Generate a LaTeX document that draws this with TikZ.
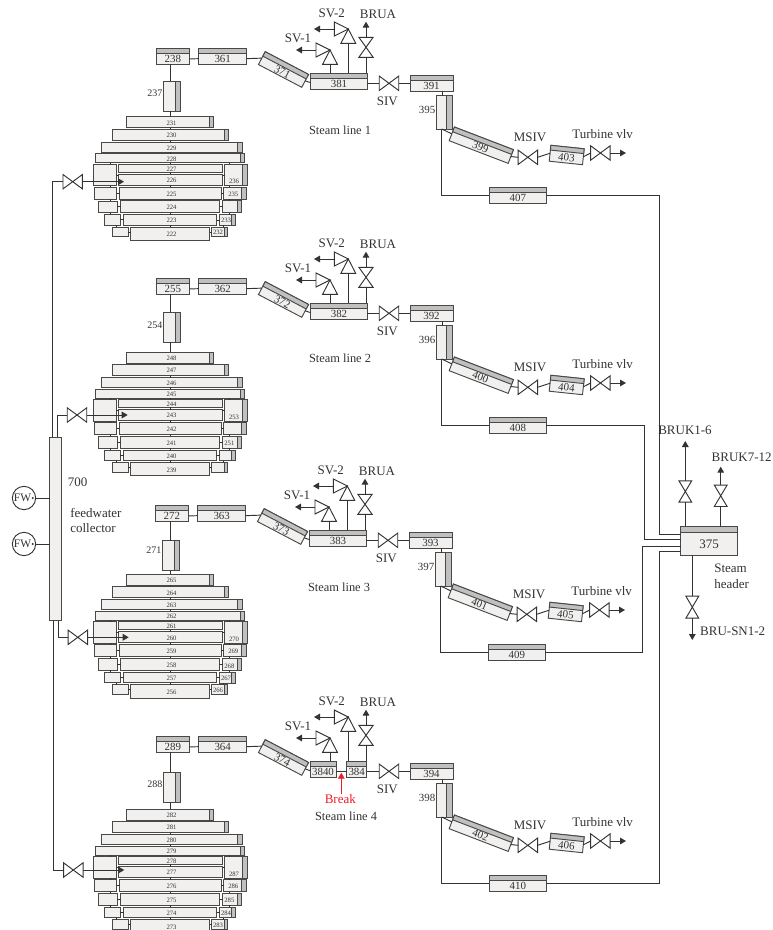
\documentclass[tikz,border=0pt]{standalone}
\usepackage{fontspec}
\setmainfont{Liberation Serif}
\usetikzlibrary{calc,arrows.meta}
\definecolor{linec}{HTML}{333333}
\definecolor{edgec}{HTML}{484848}
\definecolor{boxc}{HTML}{F1F0EF}
\definecolor{bandc}{HTML}{C0C0C0}
\definecolor{brkc}{HTML}{ED1C24}
\newcommand\fS{\fontsize{5}{6}\selectfont}
\newcommand\fM{\fontsize{8.2}{9}\selectfont}
\newcommand\fT{\fontsize{7.5}{9}\selectfont}
\newcommand\fL{\fontsize{9.75}{11}\selectfont}
% centred label, shifted by #1 right and #2 down
\newcommand\lbl[3]{\smash{\makebox[0pt][c]{\hspace*{#1}\hspace*{#1}\raisebox{\dimexpr-0.33em-#2\relax}{#3}}}}
\tikzset{
  unit/.style={rectangle,draw=edgec,fill=boxc,line width=.7pt,inner sep=0pt,outer sep=0pt,text=linec},
  ghost/.style={rectangle,inner sep=0pt,outer sep=0pt},
  pipe/.style={draw=linec,line width=.7pt},
  arr/.style={pipe,-{Triangle[length=4.5pt,width=5pt]}},
  txt/.style={font=\fL,text=linec,inner sep=0pt,outer sep=0pt},
  small/.style={font=\fT,text=linec,inner sep=0pt,outer sep=0pt},
  vlv/.style={draw=linec,line width=.7pt,fill=white,line join=miter},
}
% #1 rot, #2 name, #3 x1, #4 y1, #5 x2, #6 y2, #7 content
\newcommand\mkbox[7]{%
  \pgfmathsetmacro\myCx{(#3+#5)/2}\pgfmathsetmacro\myCy{(#4+#6)/2}%
  \pgfmathsetmacro\myW{(#5-#3)*.75}\pgfmathsetmacro\myH{(#6-#4)*.75}%
  \node[unit,rotate=#1,minimum width=\myW pt,minimum height=\myH pt] (#2) at (\myCx,\myCy) {#7};}
\newcommand\topband[2]{\filldraw[fill=bandc,draw=edgec,line width=.7pt] (#1.north west) -- (#1.north east) -- ($(#1.north east)!#2!(#1.south east)$) -- ($(#1.north west)!#2!(#1.south west)$) -- cycle;}
\newcommand\rightband[2]{\filldraw[fill=bandc,draw=edgec,line width=.7pt] (#1.north east) -- (#1.south east) -- ($(#1.south east)!#2!(#1.south west)$) -- ($(#1.north east)!#2!(#1.north west)$) -- cycle;}
% horizontal valve (bases left and right), vertical valve (bases top and bottom)
\newcommand\hvalve[3]{\node[ghost,minimum width=14.6pt,minimum height=10.8pt] (#1) at (#2,#3) {};
  \draw[vlv] (#1.north west) -- (#1.south east) -- (#1.north east) -- (#1.south west) -- cycle;}
\newcommand\vvalve[5]{\node[ghost,minimum width=#4,minimum height=#5] (#1) at (#2,#3) {};
  \draw[vlv] (#1.north west) -- (#1.north east) -- (#1.south west) -- (#1.south east) -- cycle;}
% safety valve: #1 name, apex at (#2,#3)
\newcommand\safety[3]{%
  \coordinate (#1-ap) at (#2,#3);
  \coordinate (#1-in) at ($(#1-ap)+(0,14.3)$);
  \coordinate (#1-out) at ($(#1-ap)+(-14,0)$);
  \draw[vlv] (#1-ap) -- ($(#1-ap)+(-7.4,14.3)$) -- ($(#1-ap)+(7.4,14.3)$) -- cycle;
  \draw[vlv] (#1-ap) -- ($(#1-ap)+(-14,-7)$) -- ($(#1-ap)+(-14,7)$) -- cycle;}
% stack row
\newcommand\rowb[7]{%
  \pgfmathsetmacro\myDx{(171.5-(#2+#4)/2)*.75}%
  \mkbox{0}{#1}{#2}{#3}{#4}{#5}{\fS\lbl{\myDx pt}{.6pt}{#7}}%
  \ifdim #6pt>0pt \rightband{#1}{#6pt}\fi}
% side box
\newcommand\sideb[9]{%
  \mkbox{0}{#1}{#2}{#3}{#4}{#5}{\fS\lbl{#7}{#8}{#9}}%
  \ifdim #6pt>0pt \rightband{#1}{#6pt}\fi}
% steam generator stack
\newcommand\SG[9]{%
  \coordinate (#1-x) at (170.3,#3);
  \begin{scope}[shift={(#2,#3)}]
  \coordinate (#1-lx) at (110.7,0); \coordinate (#1-lz) at (116.5,0);
  \coordinate (#1-rx) at (229.3,0); \coordinate (#1-rz) at (223,0);
  \rowb{#1-r9}{126}{116.7}{213}{127.7}{2.8}{\the\numexpr#4+9\relax}
  \rowb{#1-r8}{112.5}{129}{228.5}{140.3}{3}{\the\numexpr#4+8\relax}
  \rowb{#1-r7}{101}{142.3}{242}{152}{3.75}{\the\numexpr#4+7\relax}
  \rowb{#1-r6}{95}{153.7}{244.5}{162.7}{3.4}{\the\numexpr#4+6\relax}
  \rowb{#1-r5}{118.5}{164.3}{222}{172}{0}{\the\numexpr#4+5\relax}
  \rowb{#1-r4}{118.5}{174.3}{222}{185}{0}{\the\numexpr#4+4\relax}
  \rowb{#1-r3}{119.5}{187.3}{221}{199.3}{0}{\the\numexpr#4+3\relax}
  \rowb{#1-r2}{120.5}{200.7}{219.5}{212.7}{0}{\the\numexpr#4+2\relax}
  \rowb{#1-r1}{123.5}{214.7}{216.5}{225}{0}{\the\numexpr#4+1\relax}
  \rowb{#1-r0}{130.5}{227.3}{209.5}{240.5}{0}{\the\numexpr#4+0\relax}
  \mkbox{0}{#1-l4}{93}{164.3}{116}{185.7}{}
  \mkbox{0}{#1-l3}{94}{187.3}{116.5}{199.3}{}
  \mkbox{0}{#1-l2}{98.5}{201}{117}{212.7}{}
  \mkbox{0}{#1-l1}{104.5}{214.7}{120}{225}{}
  \mkbox{0}{#1-l0}{112.7}{227.3}{128.3}{236.7}{}
  \sideb{#1-s4}{224.5}{164.3}{247.5}{185.7}{3.75}{-1.5pt}{5pt}{#5}
  \sideb{#1-s3}{223.5}{187.3}{246}{199.3}{3.4}{-1.1pt}{.4pt}{#6}
  \sideb{#1-s2}{222.5}{200.7}{241}{212.7}{2.6}{-1.8pt}{1.2pt}{#7}
  \sideb{#1-s1}{219.5}{214.7}{235.5}{225.5}{3}{-1.1pt}{.4pt}{#8}
  \sideb{#1-s0}{211.5}{227.3}{227.5}{236.7}{2.6}{-1.1pt}{.4pt}{#9}
  \foreach \mya/\myb in {9/8,8/7,7/6,6/5,5/4,4/3,3/2,2/1,1/0}
    \draw[pipe] (#1-r\mya.south -| #1-x) -- (#1-r\myb.north -| #1-x);
  \foreach \mya in {0,1,2,3,4}{
    \draw[pipe] (#1-l\mya.east) -- (#1-l\mya.east -| #1-r\mya.west);
    \draw[pipe] (#1-s\mya.west) -- (#1-s\mya.west -| #1-r\mya.east);}
  \draw[pipe] (#1-r6.south -| #1-lx) -- (#1-l4.north -| #1-lx);
  \draw[pipe] (#1-l4.south -| #1-lx) -- (#1-l3.north -| #1-lx);
  \draw[pipe] (#1-l3.south -| #1-lx) -- (#1-l2.north -| #1-lx);
  \draw[pipe] (#1-l2.south -| #1-lx) -- (#1-l1.north -| #1-lx);
  \draw[pipe] (#1-l1.south -| #1-lz) -- (#1-l0.north -| #1-lz);
  \draw[pipe] (#1-r6.south -| #1-rx) -- (#1-s4.north -| #1-rx);
  \draw[pipe] (#1-s4.south -| #1-rx) -- (#1-s3.north -| #1-rx);
  \draw[pipe] (#1-s3.south -| #1-rx) -- (#1-s2.north -| #1-rx);
  \draw[pipe] (#1-s2.south -| #1-rx) -- (#1-s1.north -| #1-rx);
  \draw[pipe] (#1-s1.south -| #1-rz) -- (#1-s0.north -| #1-rz);
  \end{scope}}
% steam line: #1 prefix, #2 dx, #3 dy, #4 index, #5 tube y offset, #6 tube label y
\newcommand\SL[6]{%
  \coordinate (#1-x) at (170.3,#3);
  \begin{scope}[shift={(#2,#3)}]
  \coordinate (#1-y) at (442.7,0);
  \mkbox{0}{#1-a}{156.3}{48.3}{189.3}{64.3}{\fM\lbl{0pt}{2.2pt}{\the\numexpr238+17*#4\relax}}\topband{#1-a}{4pt}
  \mkbox{0}{#1-c}{198.7}{48}{246.7}{64}{\fM\lbl{0pt}{2pt}{\the\numexpr361+#4\relax}}\topband{#1-c}{4pt}
  \node[unit,rotate=-27.7,minimum width=36.7pt,minimum height=10.9pt] (#1-b) at (283.5,69.5) {\fM\lbl{0pt}{2pt}{\the\numexpr371+#4\relax}};
  \topband{#1-b}{3.8pt}
  \ifnum#4=3
    \def\mL{#1-m0}\def\mR{#1-m}
    \mkbox{0}{#1-m0}{310}{73.3}{336}{89.3}{\fM\lbl{0pt}{2pt}{3840}}\topband{#1-m0}{3.8pt}
    \mkbox{0}{#1-m}{346.7}{73.3}{366.7}{89.3}{\fM\lbl{0pt}{2pt}{384}}\topband{#1-m}{3.8pt}
    \draw[pipe] ([yshift=-1.5pt]#1-m0.east) -- ([yshift=-1.5pt]#1-m.west);
  \else
    \def\mL{#1-m}\def\mR{#1-m}
    \mkbox{0}{#1-m}{310.7}{73.3}{367.3}{89.3}{\fM\lbl{0pt}{2pt}{\the\numexpr381+#4\relax}}\topband{#1-m}{3.8pt}
  \fi
  \mkbox{0}{#1-d}{410}{75}{453}{91}{\fM\lbl{0pt}{2pt}{\the\numexpr391+#4\relax}}\topband{#1-d}{4pt}
  \mkbox{0}{#1-t2}{436}{95.7}{452.7}{129}{}\rightband{#1-t2}{4.4pt}
  \node[unit,rotate=-21,minimum width=47.4pt,minimum height=11pt] (#1-e) at (481.3,145.2) {\fM\lbl{0pt}{1.8pt}{\the\numexpr399+#4\relax}};
  \topband{#1-e}{3.8pt}
  \node[unit,rotate=-6,minimum width=25.1pt,minimum height=12pt] (#1-f) at (566.7,155) {\fM\lbl{0pt}{1.8pt}{\the\numexpr403+#4\relax}};
  \topband{#1-f}{3.6pt}
  \mkbox{0}{#1-g}{489.3}{187}{546.3}{203.3}{\fM\lbl{0pt}{2pt}{\the\numexpr407+#4\relax}}\topband{#1-g}{4.4pt}
  \begin{scope}[shift={(0,#5)}]
    \mkbox{0}{#1-t1}{163.7}{81}{180.7}{111}{}\rightband{#1-t1}{4.2pt}
  \end{scope}
  \node[small,anchor=east] (#1-lt1) at (162.3,#6) {\the\numexpr237+17*#4\relax};
  \node[font=\fM,text=linec,inner sep=0pt,anchor=east] (#1-lt2) at (435.5,110) {\the\numexpr395+#4\relax};
  \hvalve{#1-v}{389}{83.3}
  \hvalve{#1-w}{527.8}{157.3}
  \hvalve{#1-tv}{600.4}{153}
  \coordinate (#1-tend) at (626,153);
  \vvalve{#1-br}{366}{47.3}{10.7pt}{15pt}
  \coordinate (#1-brend) at (366,21.7);
  \safety{#1-sa}{330}{50}
  \safety{#1-sb}{348.3}{29}
  \coordinate (#1-saend) at (296,50);
  \coordinate (#1-sbend) at (314,29);
  \node[txt] (#1-lsa) at (298,38) {SV-1};
  \node[txt] (#1-lsb) at (331.7,13.3) {SV-2};
  \node[txt] (#1-lbr) at (378,14.3) {BRUA};
  \node[txt] (#1-lsiv) at (387.3,101.7) {SIV};
  \node[txt] (#1-lmsiv) at (530,137.3) {MSIV};
  \node[txt] (#1-ltv) at (602.7,134.3) {Turbine vlv};
  \draw[pipe] ([yshift=-2pt]#1-a.east) -- ([yshift=-2pt]#1-c.west);
  \draw[pipe] ([yshift=-2pt]#1-c.east) -- (#1-b.west);
  \draw[pipe] (#1-b.east) -- ([yshift=-1pt]\mL.west);
  \draw[pipe] (#1-a.south -| #1-x) -- (#1-t1.north -| #1-x);
  \draw[pipe] (#1-sa-in) -- (#1-sa-in |- \mL.north);
  \draw[pipe] (#1-sb-in) -- (#1-sb-in |- \mR.north);
  \draw[pipe] (#1-br.south) -- (#1-br.south |- \mR.north);
  \draw[arr] (#1-br.north) -- (#1-brend);
  \draw[arr] (#1-sa-out) -- (#1-saend);
  \draw[arr] (#1-sb-out) -- (#1-sbend);
  \draw[pipe] (\mR.east |- #1-v.west) -- (#1-v.west);
  \draw[pipe] (#1-v.east) -- (#1-d.west |- #1-v.east);
  \draw[pipe] (#1-d.south -| #1-y) -- (#1-t2.north -| #1-y);
  \coordinate (#1-t2b) at (441.7,129);
  \draw[pipe] (#1-t2b) -- (#1-e.west);
  \draw[pipe] (#1-t2b) |- (#1-g.west);
  \draw[pipe] (#1-e.east) -- (#1-w.west);
  \draw[pipe] (#1-w.east) -- (#1-f.west);
  \draw[pipe] (#1-f.east) -- (#1-tv.west);
  \draw[arr] (#1-tv.east) -- (#1-tend);
  \end{scope}}
\begin{document}
\begin{tikzpicture}[x=.75pt,y=-.75pt]
\useasboundingbox (0,0) rectangle (773,930);
\clip (0,0) rectangle (773,930);
% steam generators
\SG{ga}{0}{0}{222}{236}{235}{}{233}{232}
\SG{gb}{0}{235.3}{239}{253}{}{251}{}{}
\SG{gc}{0}{457.6}{256}{270}{269}{268}{267}{266}
\SG{gd}{0}{692.3}{273}{287}{286}{285}{284}{283}
% steam lines
\SL{la}{0}{0}{0}{0}{93}
\SL{lb}{0}{230}{1}{1}{95}
\SL{lc}{-1}{457}{2}{2.7}{93}
\SL{ld}{0}{688}{3}{3}{96}
\foreach \myl/\myg in {la/ga,lb/gb,lc/gc,ld/gd}
  \draw[pipe] (\myl-t1.south -| \myl-x) -- (\myg-r9.north -| \myl-x);
% line labels
\node[txt,font=\fontsize{9.3}{11}\selectfont] (nla) at (340,130) {Steam line 1};
\node[txt,font=\fontsize{9.3}{11}\selectfont] (nlb) at (340,358) {Steam line 2};
\node[txt,font=\fontsize{9.3}{11}\selectfont] (nlc) at (339,587) {Steam line 3};
\node[txt,font=\fontsize{9.3}{11}\selectfont] (nld) at (346,816.7) {Steam line 4};
% break
\node[txt,text=brkc] (brk) at (340.3,798.7) {Break};
\coordinate (brktip) at (341.3,772.7);
\draw[draw=brkc,line width=.75pt,-{Triangle[length=4.5pt,width=5pt]}] (brk.north -| brktip) -- (brktip);
% header
\mkbox{0}{hdr}{680.7}{526.7}{737.3}{555.3}{\fL\lbl{0pt}{2.2pt}{375}}\topband{hdr}{4pt}
\coordinate (h1) at (659.3,534.3);
\coordinate (h2) at (644.3,539.3);
\coordinate (h3) at (642.7,546.7);
\coordinate (h4) at (659.3,551.7);
\draw[pipe] (la-g.east) -| (h1) -- (hdr.west |- h1);
\draw[pipe] (lb-g.east) -| (h2) -- (hdr.west |- h2);
\draw[pipe] (lc-g.east) -| (h3) -- (hdr.west |- h3);
\draw[pipe] (ld-g.east) -| (h4) -- (hdr.west |- h4);
\vvalve{ka}{685.3}{491.5}{9.6pt}{16pt}
\vvalve{kb}{720.7}{495.8}{9.6pt}{16pt}
\vvalve{kc}{692.3}{607.2}{9.6pt}{16.5pt}
\coordinate (kaend) at (685.3,441);
\coordinate (kbend) at (720.7,466.7);
\coordinate (kcend) at (692.3,640);
\draw[pipe] (ka.south) -- (ka.south |- hdr.north);
\draw[pipe] (kb.south) -- (kb.south |- hdr.north);
\draw[pipe] (kc.north) -- (kc.north |- hdr.south);
\draw[arr] (ka.north) -- (kaend);
\draw[arr] (kb.north) -- (kbend);
\draw[arr] (kc.south) -- (kcend);
\node[txt] (nka) at (685,430) {BRUK1-6};
\node[txt] (nkb) at (741.7,457.7) {BRUK7-12};
\node[txt] (nkc) at (732.7,631.7) {BRU-SN1-2};
\node[txt,anchor=west] (nsa) at (714.3,568.3) {Steam};
\node[txt,anchor=west] (nsb) at (714.3,584) {header};
% collector
\mkbox{0}{col}{49.7}{437.3}{61.7}{620.7}{}
\node[txt] (n700) at (77.7,482.3) {700};
\node[txt,anchor=west] (nfa) at (70.3,512.7) {feedwater};
\node[txt,anchor=west] (nfb) at (70.3,527.7) {collector};
\foreach \myn/\myy in {fa/498,fb/544}{
  \node[circle,draw=linec,line width=.7pt,inner sep=0pt,outer sep=0pt,minimum size=17.5pt,font=\fontsize{8.6}{10}\selectfont,text=linec] (\myn) at (24,\myy) {\lbl{-1.1pt}{0pt}{FW}};
  \draw[pipe] (\myn.east) -- (col.west |- \myn.east);
  \fill[linec] ([xshift=-2.2pt]\myn.east) circle (.8pt);
}
% feedwater branches
\coordinate (fa0) at (52.3,437.3);
\coordinate (fb0) at (57.3,437.3);
\coordinate (fc0) at (58.3,620.7);
\coordinate (fd0) at (53.3,620.7);
\hvalve{va}{72.7}{181.7}
\hvalve{vb}{77}{415}
\hvalve{vc}{77.8}{637.3}
\hvalve{vd}{73.3}{870}
\coordinate (ta) at (124,181.7);
\coordinate (tb) at (127.7,415);
\coordinate (tc) at (128.7,637.3);
\coordinate (td) at (124.3,870);
\draw[pipe] (fa0) |- (va.west);
\draw[pipe] (fb0) |- (vb.west);
\draw[pipe] (fc0) |- (vc.west);
\draw[pipe] (fd0) |- (vd.west);
\draw[arr] (va.east) -- (ta);
\draw[arr] (vb.east) -- (tb);
\draw[arr] (vc.east) -- (tc);
\draw[arr] (vd.east) -- (td);
\end{tikzpicture}
\end{document}
